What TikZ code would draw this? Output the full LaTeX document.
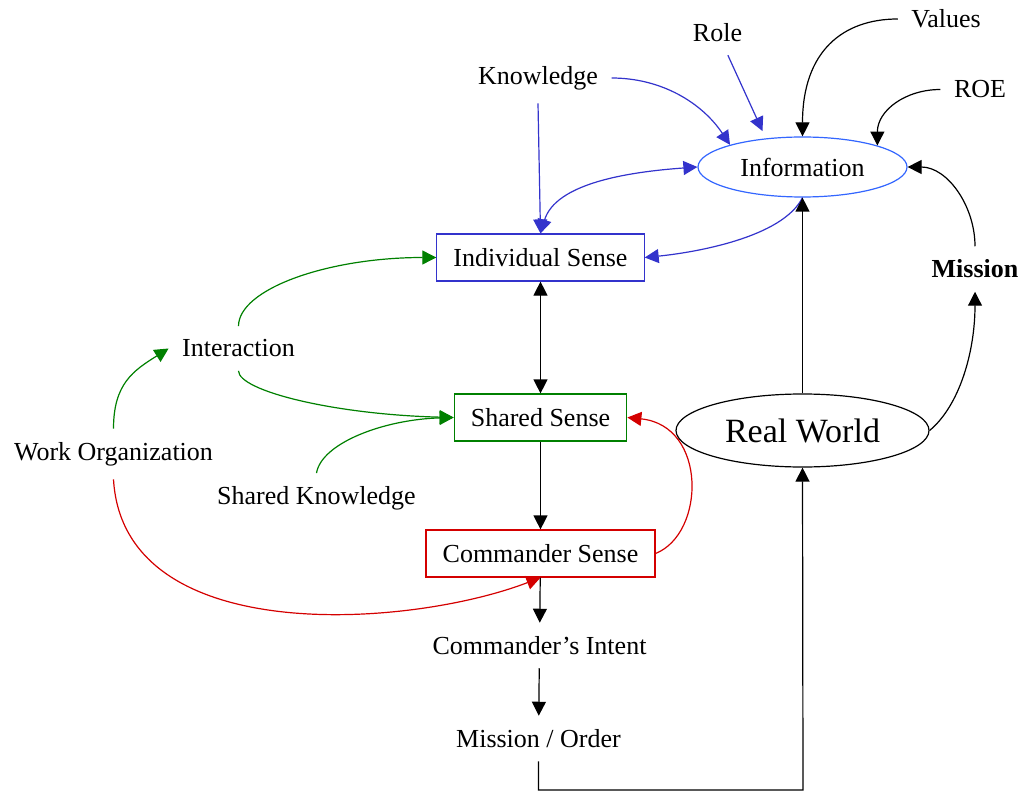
\documentclass[tikz,border=0pt]{standalone}
\usepackage{fontspec}
\setmainfont{Liberation Serif}
\usepackage{tikz}
\usetikzlibrary{arrows.meta, shapes.geometric, positioning}
\usepackage{xcolor}

\definecolor{senseblue}{RGB}{51,51,204}
\definecolor{infoblue}{RGB}{51,102,255}
\definecolor{sensegreen}{RGB}{0,128,0}
\definecolor{sensered}{RGB}{212,0,0}

\begin{document}
\begin{tikzpicture}[x=0.5pt, y=-0.5pt, line width=0.6pt,
  every node/.style={font=\fontsize{13pt}{15pt}\selectfont},
  lbl/.style={inner sep=6.5pt},
  sensebox/.style={draw, rectangle, minimum height=23.5pt, inner xsep=8.3pt},
  tip/.style={-{Triangle[length=7pt,width=7pt]}},
  bothtips/.style={{Triangle[length=7pt,width=7pt]}-{Triangle[length=7pt,width=7pt]}}
]
\useasboundingbox (0,0) rectangle (1022,791);

% Information and what feeds it
\node[draw=infoblue, ellipse, minimum width=104.5pt, minimum height=30pt, inner sep=0pt] (info) at (802.5,167) {Information};
\node[lbl] (values) at (946,19) {Values};
\node[lbl] (role) at (717.5,32.5) {Role};
\node[lbl] (know) at (538,78) {Knowledge};
\node[lbl] (roe) at (980,89.5) {ROE};
\node[lbl, font=\bfseries\fontsize{13pt}{15pt}\selectfont] (mission) at (975,269) {Mission};
\node[draw, ellipse, minimum width=126.5pt, minimum height=36.5pt, inner sep=0pt, font=\fontsize{17pt}{20pt}\selectfont] (world) at (802.5,430.5) {Real World};

% Sense boxes
\node[sensebox, draw=senseblue] (indiv) at (540.5,257.5) {Individual Sense};
\node[sensebox, draw=sensegreen] (shared) at (540.5,417.5) {Shared Sense};
\node[sensebox, draw=sensered] (cmd) at (540.5,553.5) {Commander Sense};

% Left side
\node[lbl] (inter) at (238.5,348.5) {Interaction};
\node[lbl] (work) at (113.5,454) {Work Organization};
\node[lbl] (sknow) at (316.5,498.5) {Shared Knowledge};

% Orders
\node[lbl] (intent) at (539.5,645.5) {Commander’s Intent};
\node[lbl] (order) at (538.5,738.5) {Mission / Order};
\coordinate (corner) at (803,790);

% Blue links
\draw[tip, senseblue] (know.east) .. controls +(50,0) and +(-28,-42) .. (info.163);
\draw[tip, senseblue] (know.south) -- (indiv.north);
\draw[tip, senseblue, shorten >=4pt] (role) -- (info.142);
\draw[bothtips, senseblue] (indiv.north) .. controls +(15,-50) and +(-70,5) .. (info.west);
\draw[tip, senseblue] (info.south) .. controls +(-20,40) and +(50,-5) .. (indiv.east);

% Black links round Information
\draw[tip] (values.west) .. controls +(-55,0) and +(0,-85) .. (info.north);
\draw[tip] (roe.west) .. controls +(-35,0) and +(0,-35) .. (info.16);
\draw[tip] (world.north) -- (info.south);
\draw[tip] (world.east) .. controls +(30,-25) and +(0,60) .. (mission.south);
\draw[tip] (mission.north) .. controls +(0,-40) and +(40,0) .. (info.east);

% Down the middle
\draw[bothtips] (indiv) -- (shared);
\draw[tip] (shared) -- (cmd);
\draw[tip] (cmd) -- (intent);
\draw[tip] (intent) -- (order);
\draw[tip] (order.south) |- (corner) -- (world.south);

% Green links
\draw[tip, sensegreen] (inter.north) .. controls +(0,-37) and +(-109,0) .. (indiv.west);
\draw[tip, sensegreen] (inter.south) .. controls +(0,20) and +(-120,-3) .. (shared.west);
\draw[tip, sensegreen] (sknow.north) .. controls +(5,-30) and +(-70,2) .. (shared.west);
\draw[tip, sensegreen] (work.north) .. controls +(0,-45) and +(-35,22) .. (inter.west);

% Red links
\draw[tip, sensered] (work.south) .. controls +(10,170) and +(-130,50) .. (cmd.south);
\draw[tip, sensered] (cmd.east) .. controls +(50,-20) and +(80,8) .. (shared.east);
\end{tikzpicture}
\end{document}
